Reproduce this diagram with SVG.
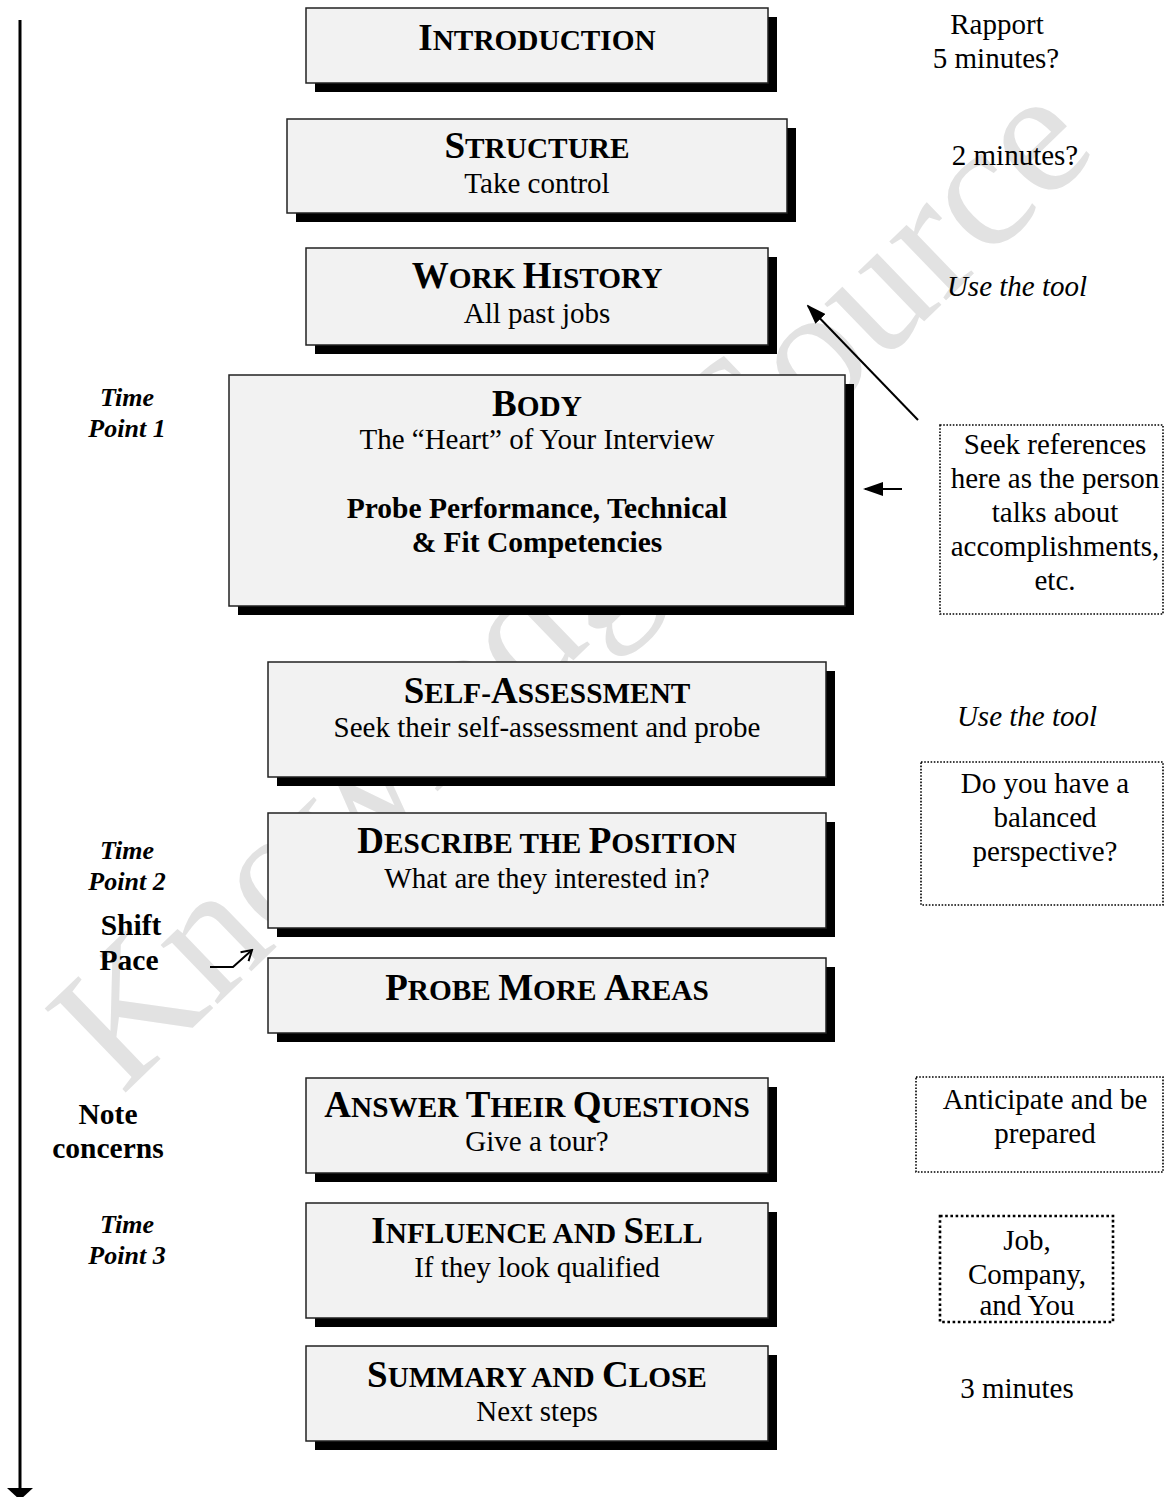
<svg xmlns="http://www.w3.org/2000/svg" width="1164" height="1497" viewBox="0 0 1164 1497">
<style>
text{font-family:"Liberation Serif","Times New Roman",serif;fill:#000;text-anchor:middle}
.box{fill:#f2f2f2;stroke:#222;stroke-width:1.5}
.sh{fill:#000}
.h{font-weight:bold;font-size:37px}
.sc{font-size:29.3px}
.t{font-size:29px}
.b{font-size:29.5px;font-weight:bold}
.it{font-size:29px;font-style:italic}
.bi{font-size:26px;font-weight:bold;font-style:italic}
.dot{fill:none;stroke:#000;stroke-width:1.6;stroke-dasharray:1.6 1.6}
.dot2{fill:none;stroke:#000;stroke-width:2.6;stroke-dasharray:2.6 2.6}
.wm{font-size:178px;fill:#e2e2e2}
.ln{stroke:#000;stroke-width:2;fill:none}
</style>
<defs>
<marker id="ah2" markerWidth="20" markerHeight="14" refX="18" refY="7" orient="auto" markerUnits="userSpaceOnUse" viewBox="0 0 20 14">
<path d="M0,0 L20,7 L0,14 Z" fill="#000"/>
</marker>
<marker id="open" markerWidth="14" markerHeight="14" refX="12" refY="7" orient="auto" markerUnits="userSpaceOnUse" viewBox="0 0 14 14">
<path d="M2,1 L12,7 L2,13" fill="none" stroke="#000" stroke-width="2"/>
</marker>
</defs>
<rect width="1164" height="1497" fill="#fff"/>
<text class="wm" transform="translate(122,1096) rotate(-44)" style="text-anchor:start">Knowledge Source</text>

<g id="timeline">
<line x1="20" y1="20" x2="20" y2="1488" stroke="#000" stroke-width="3"/>
<path d="M7,1488 L33,1488 L20,1500 Z" fill="#000"/>
</g>

<g id="intro">
<rect class="sh" x="315" y="17" width="462" height="75"/>
<rect class="box" x="306" y="8" width="462" height="75"/>
<text class="h" x="537" y="50">I<tspan class="sc">NTRODUCTION</tspan></text>
</g>
<g id="structure">
<rect class="sh" x="296" y="128" width="500" height="94"/>
<rect class="box" x="287" y="119" width="500" height="94"/>
<text class="h" x="537" y="158">S<tspan class="sc">TRUCTURE</tspan></text>
<text class="t" x="537" y="193">Take control</text>
</g>
<g id="workhistory">
<rect class="sh" x="315" y="257" width="462" height="97"/>
<rect class="box" x="306" y="248" width="462" height="97"/>
<text class="h" x="537" y="288">W<tspan class="sc">ORK </tspan>H<tspan class="sc">ISTORY</tspan></text>
<text class="t" x="537" y="323">All past jobs</text>
</g>
<g id="body">
<rect class="sh" x="238" y="384" width="616" height="231"/>
<rect class="box" x="229" y="375" width="616" height="231"/>
<text class="h" x="537" y="416">B<tspan class="sc">ODY</tspan></text>
<text class="t" x="537" y="449">The “Heart” of Your Interview</text>
<text class="b" x="537" y="518">Probe Performance, Technical</text>
<text class="b" x="537" y="552">&amp; Fit Competencies</text>
</g>
<g id="selfassessment">
<rect class="sh" x="277" y="671" width="558" height="115"/>
<rect class="box" x="268" y="662" width="558" height="115"/>
<text class="h" x="547" y="703">S<tspan class="sc">ELF-</tspan>A<tspan class="sc">SSESSMENT</tspan></text>
<text class="t" x="547" y="737">Seek their self-assessment and probe</text>
</g>
<g id="describe">
<rect class="sh" x="277" y="822" width="558" height="115"/>
<rect class="box" x="268" y="813" width="558" height="115"/>
<text class="h" x="547" y="853">D<tspan class="sc">ESCRIBE THE </tspan>P<tspan class="sc">OSITION</tspan></text>
<text class="t" x="547" y="888">What are they interested in?</text>
</g>
<g id="probemore">
<rect class="sh" x="277" y="967" width="558" height="75"/>
<rect class="box" x="268" y="958" width="558" height="75"/>
<text class="h" x="547" y="1000">P<tspan class="sc">ROBE </tspan>M<tspan class="sc">ORE </tspan>A<tspan class="sc">REAS</tspan></text>
</g>
<g id="answer">
<rect class="sh" x="315" y="1087" width="462" height="95"/>
<rect class="box" x="306" y="1078" width="462" height="95"/>
<text class="h" x="537" y="1117">A<tspan class="sc">NSWER </tspan>T<tspan class="sc">HEIR </tspan>Q<tspan class="sc">UESTIONS</tspan></text>
<text class="t" x="537" y="1151">Give a tour?</text>
</g>
<g id="influence">
<rect class="sh" x="315" y="1212" width="462" height="115"/>
<rect class="box" x="306" y="1203" width="462" height="115"/>
<text class="h" x="537" y="1243">I<tspan class="sc">NFLUENCE AND </tspan>S<tspan class="sc">ELL</tspan></text>
<text class="t" x="537" y="1277">If they look qualified</text>
</g>
<g id="summary">
<rect class="sh" x="315" y="1355" width="462" height="95"/>
<rect class="box" x="306" y="1346" width="462" height="95"/>
<text class="h" x="537" y="1387">S<tspan class="sc">UMMARY AND </tspan>C<tspan class="sc">LOSE</tspan></text>
<text class="t" x="537" y="1421">Next steps</text>
</g>

<g id="left-labels">
<text class="bi" x="127" y="406">Time</text>
<text class="bi" x="127" y="437">Point 1</text>
<text class="bi" x="127" y="859">Time</text>
<text class="bi" x="127" y="890">Point 2</text>
<text class="b" x="131" y="935">Shift</text>
<text class="b" x="129" y="970">Pace</text>
<text class="b" x="108" y="1124">Note</text>
<text class="b" x="108" y="1158">concerns</text>
<text class="bi" x="127" y="1233">Time</text>
<text class="bi" x="127" y="1264">Point 3</text>
</g>

<g id="right-notes">
<text class="t" x="997" y="34">Rapport</text>
<text class="t" x="996" y="68">5 minutes?</text>
<text class="t" x="1015" y="165">2 minutes?</text>
<text class="it" x="1017" y="296">Use the tool</text>
<text class="it" x="1027" y="726">Use the tool</text>
<text class="t" x="1017" y="1398">3 minutes</text>
</g>

<g id="note-references">
<rect class="dot" x="940" y="425" width="223" height="189"/>
<text class="t" x="1055" y="454">Seek references</text>
<text class="t" x="1055" y="488">here as the person</text>
<text class="t" x="1055" y="522">talks about</text>
<text class="t" x="1055" y="556">accomplishments,</text>
<text class="t" x="1055" y="590">etc.</text>
</g>
<g id="note-balanced">
<rect class="dot" x="921" y="762" width="242" height="143"/>
<text class="t" x="1045" y="793">Do you have a</text>
<text class="t" x="1045" y="827">balanced</text>
<text class="t" x="1045" y="861">perspective?</text>
</g>
<g id="note-anticipate">
<rect class="dot" x="916" y="1077" width="247" height="95"/>
<text class="t" x="1045" y="1109">Anticipate and be</text>
<text class="t" x="1045" y="1143">prepared</text>
</g>
<g id="note-job">
<rect class="dot2" x="940" y="1216" width="173" height="106"/>
<text class="t" x="1027" y="1250">Job,</text>
<text class="t" x="1027" y="1284">Company,</text>
<text class="t" x="1027" y="1315">and You</text>
</g>

<g id="connectors">
<line class="ln" x1="918" y1="420" x2="808" y2="306" marker-end="url(#ah2)"/>
<line class="ln" x1="902" y1="489" x2="865" y2="489" marker-end="url(#ah2)"/>
<polyline class="ln" points="210,967 233,967 252,950" marker-end="url(#open)"/>
</g>
</svg>
